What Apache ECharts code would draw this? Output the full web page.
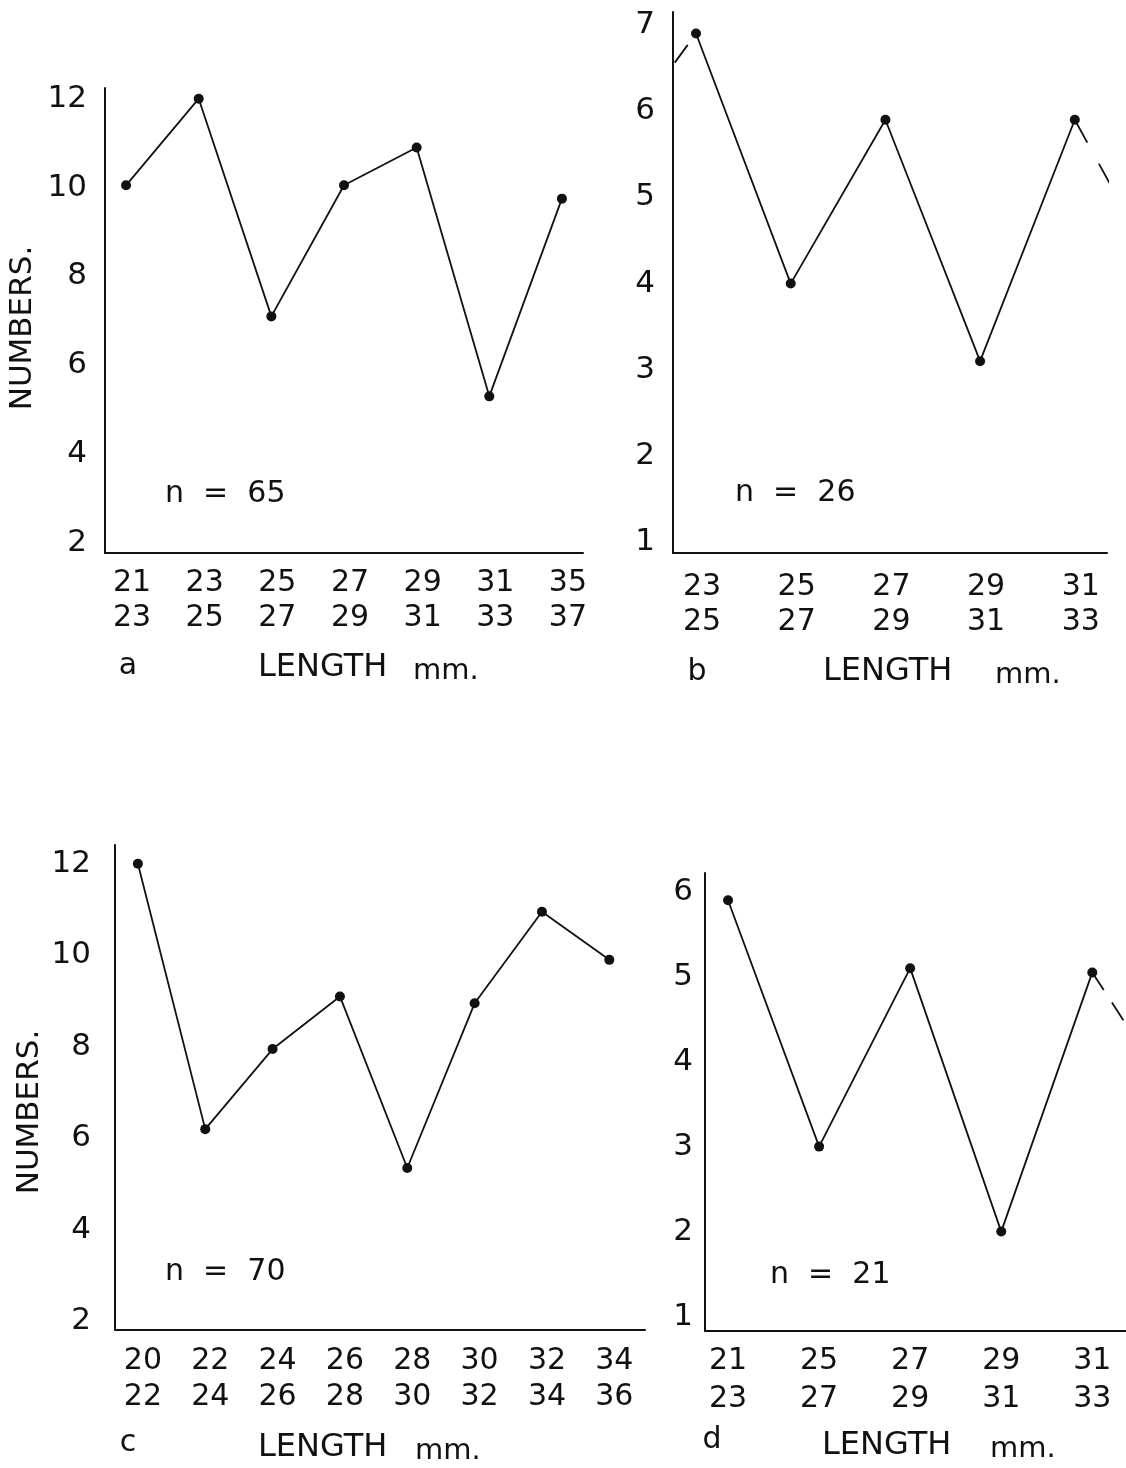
<!DOCTYPE html>
<html>
<head>
<meta charset="utf-8">
<script src="https://cdn.jsdelivr.net/npm/echarts@6/dist/echarts.min.js"></script>
<style>
  html, body { margin: 0; padding: 0; background: #fff; }
  #chart { width: 1126px; height: 1468px; }
</style>
</head>
<body>
<div id="chart"></div>
<script>
// ---- Data ----
const catsA = ['21\n23', '23\n25', '25\n27', '27\n29', '29\n31', '31\n33', '35\n37'];
const valsA = [10.05, 12, 7.1, 10.05, 10.9, 5.3, 9.75];
const ticksA = [2, 4, 6, 8, 10, 12];

const catsB = ['23\n25', '25\n27', '27\n29', '29\n31', '31\n33'];
const valsB = [6.9, 4.0, 5.9, 3.1, 5.9];
const ticksB = [1, 2, 3, 4, 5, 6, 7];
const leadInB = [5.4];   // continuation before first class (dashed, off-chart)
const leadOutB = [3.9];  // continuation after last class (dashed, off-chart)

const catsC = ['20\n22', '22\n24', '24\n26', '26\n28', '28\n30', '30\n32', '32\n34', '34\n36'];
const valsC = [12, 6.2, 7.95, 9.1, 5.35, 8.95, 10.95, 9.9];
const ticksC = [2, 4, 6, 8, 10, 12];

const catsD = ['21\n23', '25\n27', '27\n29', '29\n31', '31\n33'];
const valsD = [5.9, 3.0, 5.1, 2.0, 5.05];
const ticksD = [1, 2, 3, 4, 5, 6];
const leadOutD = [3.4];

const nLabels = ['n  =  65', 'n  =  26', 'n  =  70', 'n  =  21'];
const panelLetters = ['a', 'b', 'c', 'd'];

// ---- Styling ----
const FONT = '"DejaVu Sans", sans-serif';
const INK = '#111';

const grids = [
  { left: 105, top: 88, width: 478, height: 465 },
  { left: 673, top: 12, width: 434, height: 541 },
  { left: 115, top: 845, width: 530, height: 485 },
  { left: 705, top: 873, width: 421, height: 458 }
];

function xAxisFor(gi, cats, min, max, margin, lh, pad) {
  return {
    type: 'value', gridIndex: gi, min: min, max: max,
    axisLine: { show: true, onZero: false, lineStyle: { color: INK, width: 2 } },
    axisTick: { show: false },
    splitLine: { show: false },
    axisLabel: {
      customValues: cats.map((c, i) => i),
      formatter: v => cats[Math.round(v)],
      color: INK, fontFamily: FONT, fontSize: 30, lineHeight: lh,
      margin: margin, padding: [0, 0, 0, pad]
    }
  };
}
function yAxisFor(gi, ticks, min, max, margin) {
  return {
    type: 'value', gridIndex: gi, min: min, max: max,
    axisLine: { show: true, onZero: false, lineStyle: { color: INK, width: 2 } },
    axisTick: { show: false },
    splitLine: { show: false },
    axisLabel: {
      customValues: ticks,
      color: INK, fontFamily: FONT, fontSize: 31, margin: margin
    }
  };
}
function mainSeries(gi, vals) {
  return {
    type: 'line', xAxisIndex: gi, yAxisIndex: gi,
    data: vals.map((v, i) => [i, v]),
    symbol: 'circle', symbolSize: 10,
    itemStyle: { color: INK },
    lineStyle: { color: INK, width: 1.8 },
    animation: false, silent: true, z: 3
  };
}
function dashSeries(gi, pts, dash, offset) {
  return {
    type: 'line', xAxisIndex: gi, yAxisIndex: gi,
    data: pts, symbol: 'none', clip: true,
    lineStyle: { color: INK, width: 1.8, type: dash, dashOffset: offset },
    animation: false, silent: true, z: 2
  };
}

function txt(x, y, text, size, align, rot) {
  return {
    type: 'text', x: x, y: y, rotation: rot || 0, silent: true,
    style: { text: text, fill: INK, font: size + 'px ' + FONT,
             align: align || 'left', verticalAlign: 'middle' }
  };
}

const option = {
  backgroundColor: '#fff',
  animation: false,
  grid: grids,
  xAxis: [
    xAxisFor(0, catsA, -0.29, 6.29, 13, 35, 12),
    xAxisFor(1, catsB, -0.243, 4.34, 17, 35, 12),
    xAxisFor(2, catsC, -0.34, 7.53, 13, 36, 10),
    xAxisFor(3, catsD, -0.253, 4.37, 11, 38, 0)
  ],
  yAxis: [
    yAxisFor(0, ticksA, 1.775, 12.24, 18),
    yAxisFor(1, ticksB, 0.875, 7.15, 18),
    yAxisFor(2, ticksC, 1.81, 12.41, 24),
    yAxisFor(3, ticksD, 0.83, 6.22, 12)
  ],
  series: [
    mainSeries(0, valsA),
    mainSeries(1, valsB),
    dashSeries(1, [[0, valsB[0]], [-1, leadInB[0]]], [22, 24], 32),
    dashSeries(1, [[valsB.length - 1, valsB[valsB.length - 1]], [valsB.length, leadOutB[0]]], [26, 24], 0),
    mainSeries(2, valsC),
    mainSeries(3, valsD),
    dashSeries(3, [[valsD.length - 1, valsD[valsD.length - 1]], [valsD.length, leadOutD[0]]], [21, 15], 0)
  ],
  graphic: [
    txt(23, 328, 'NUMBERS.', 31, 'center', Math.PI / 2),
    txt(30, 1112, 'NUMBERS.', 31, 'center', Math.PI / 2),
    txt(165, 494, nLabels[0], 30),
    txt(735, 493, nLabels[1], 30),
    txt(165, 1272, nLabels[2], 30),
    txt(770, 1275, nLabels[3], 30),
    txt(128, 666, panelLetters[0], 30, 'center'),
    txt(697, 672, panelLetters[1], 30, 'center'),
    txt(128, 1443, panelLetters[2], 30, 'center'),
    txt(712, 1440, panelLetters[3], 30, 'center'),
    txt(258, 668, 'LENGTH', 32),
    txt(413, 671, 'mm.', 29),
    txt(823, 672, 'LENGTH', 32),
    txt(995, 675, 'mm.', 29),
    txt(258, 1448, 'LENGTH', 32),
    txt(415, 1451, 'mm.', 29),
    txt(822, 1446, 'LENGTH', 32),
    txt(990, 1449, 'mm.', 29)
  ]
};

const chart = echarts.init(document.getElementById('chart'), null, { renderer: 'canvas' });
chart.setOption(option);
</script>
</body>
</html>
